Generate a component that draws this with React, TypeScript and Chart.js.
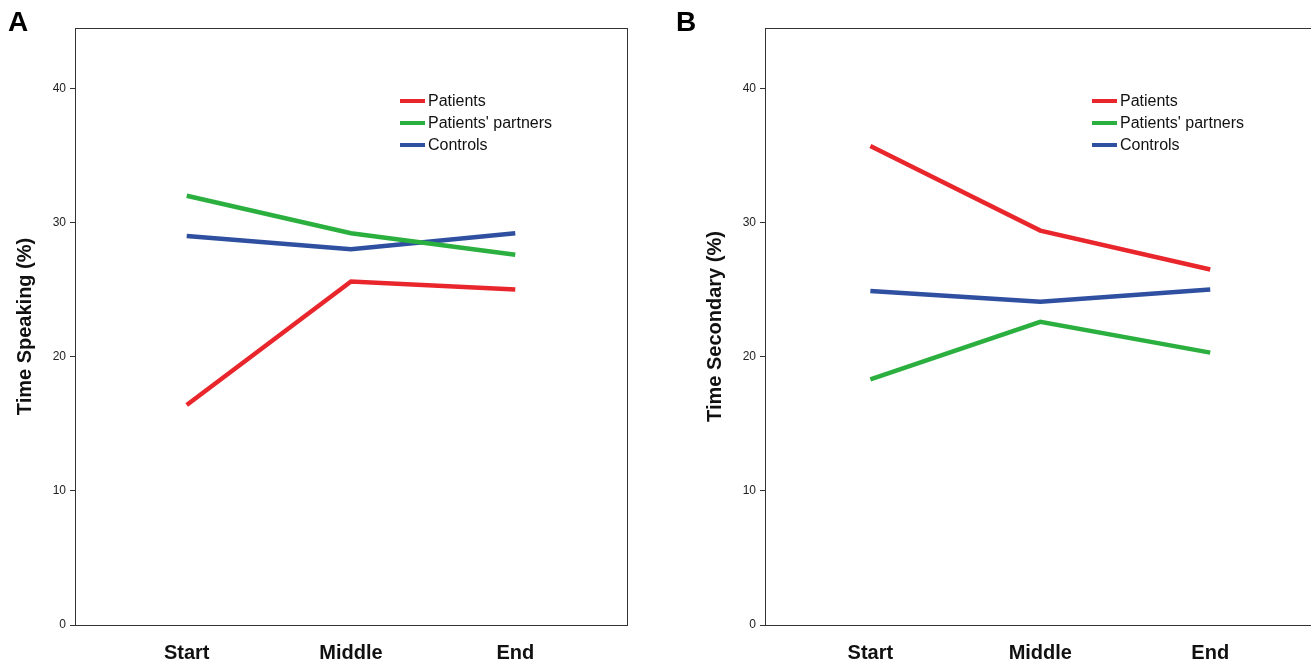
import { useEffect, useRef } from "react"
import { Chart, registerables } from "chart.js"

Chart.register(...registerables)

const phases = ["Start", "Middle", "End"]
const seriesNames = ["Patients", "Patients' partners", "Controls"]
const seriesColors = ["#e8262b", "#2bb040", "#2f4fa0"]

const speakingPatients = [16.4, 25.6, 25.0]
const speakingPartners = [32.0, 29.2, 27.6]
const speakingControls = [29.0, 28.0, 29.2]

const secondaryPatients = [35.7, 29.4, 26.5]
const secondaryPartners = [18.3, 22.6, 20.3]
const secondaryControls = [24.9, 24.1, 25.0]

const yTicks = [0, 10, 20, 30, 40]

const frame = {
  id: "frame",
  afterDraw(chart: Chart) {
    const { ctx, chartArea: a } = chart
    ctx.save()
    ctx.strokeStyle = "#333"
    ctx.lineWidth = 1
    ctx.strokeRect(a.left + 0.5, a.top + 0.5, a.right - a.left, a.bottom - a.top)
    ctx.restore()
  },
}

function Panel({ title, series, left, width, letter, xMin, xMax, letterX, legendX }: {
  title: string; series: number[][]; left: number; width: number; letter: string
  xMin: number; xMax: number; letterX: number; legendX: number
}) {
  const ref = useRef<HTMLCanvasElement>(null)

  useEffect(() => {
    if (!ref.current) return
    const chart = new Chart(ref.current, {
      type: "line",
      data: {
        datasets: series.map((vals, i) => ({
          label: seriesNames[i],
          data: vals.map((v, j) => ({ x: j, y: v })),
          borderColor: seriesColors[i],
          borderWidth: 4.5,
          pointRadius: 0,
          tension: 0,
        })),
      },
      options: {
        animation: false,
        responsive: false,
        layout: { padding: { top: 28, right: 13, left: 0, bottom: 0 } },
        plugins: { legend: { display: false }, tooltip: { enabled: false } },
        scales: {
          x: {
            type: "linear",
            min: xMin,
            max: xMax,
            afterBuildTicks: (s: any) => { s.ticks = phases.map((_, i) => ({ value: i })) },
            afterFit: (s: any) => { s.height = 37 },
            border: { display: false },
            grid: { display: false },
            ticks: {
              callback: (v: any) => phases[v] ?? "",
              color: "#111",
              font: { family: "Liberation Sans", size: 20, weight: "bold" },
              padding: 8,
              maxRotation: 0,
            },
          },
          y: {
            min: 0,
            max: 44.5,
            afterBuildTicks: (s: any) => { s.ticks = yTicks.map((v) => ({ value: v })) },
            afterFit: (s: any) => { s.width = 75 },
            border: { display: false },
            grid: { drawOnChartArea: false, drawTicks: true, tickLength: 5, color: "#333" },
            ticks: { color: "#222", font: { family: "Liberation Sans", size: 12 }, padding: 4 },
            title: {
              display: true,
              text: title,
              color: "#111",
              font: { family: "Liberation Sans", size: 20, weight: "bold" },
              padding: { top: 13, bottom: 0 },
            },
          },
        },
      },
      plugins: [frame],
    })
    return () => chart.destroy()
  }, [])

  return (
    <>
      <canvas ref={ref} width={width} height={662} style={{ position: "absolute", left, top: 0 }} />
      <div style={{ position: "absolute", left: letterX, top: 6, fontSize: 28, fontWeight: "bold", fontFamily: "Liberation Sans" }}>{letter}</div>
      {seriesNames.map((n, i) => (
        <div key={n} style={{ position: "absolute", left: legendX, top: 92 + i * 22, display: "flex", alignItems: "center", fontFamily: "Liberation Sans", fontSize: 16, color: "#111" }}>
          <span style={{ display: "inline-block", width: 25, height: 4, background: seriesColors[i], marginRight: 3 }} />
          {n}
        </div>
      ))}
    </>
  )
}

export default function App() {
  return (
    <div style={{ position: "fixed", left: 0, top: 0, width: 1311, height: 662, overflow: "hidden", background: "#fff" }}>
      <Panel letter="A" title="Time Speaking (%)" series={[speakingPatients, speakingPartners, speakingControls]}
        left={0} width={640} xMin={-0.68} xMax={2.68} letterX={8} legendX={400} />
      <Panel letter="B" title="Time Secondary (%)" series={[secondaryPatients, secondaryPartners, secondaryControls]}
        left={690} width={659} xMin={-0.62} xMax={2.74} letterX={676} legendX={1092} />
    </div>
  )
}
